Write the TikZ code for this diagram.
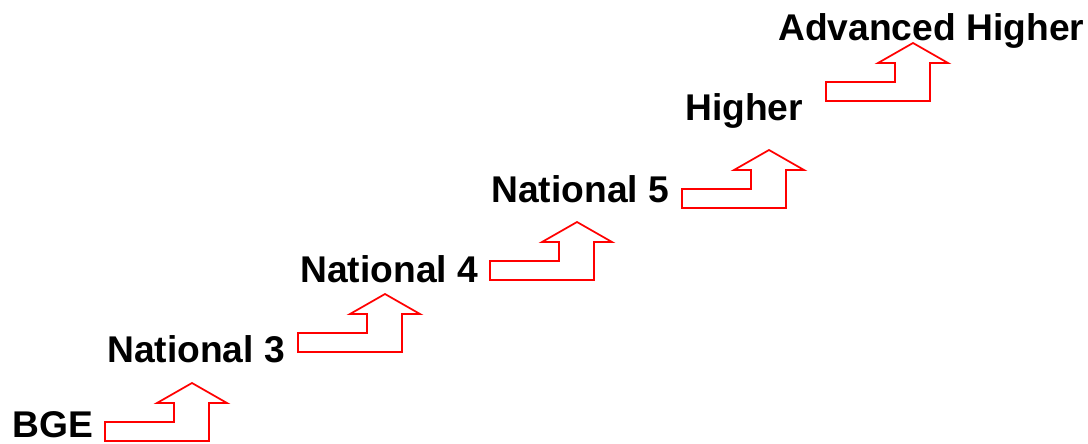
\documentclass[tikz,border=0pt]{standalone}
\usepackage{fontspec}
\setmainfont{Liberation Sans}
\begin{document}
\begin{tikzpicture}[x=0.75pt, y=-0.75pt,
  level/.style={anchor=base west, inner sep=0pt, font=\bfseries\fontsize{27.9}{30}\selectfont, text=black},
  steparrow/.pic={
    \draw[red, line width=1.3pt, line join=miter]
      (0,0) -- (0,-19) -- (69,-19) -- (69,-38) -- (52,-38) -- (87,-58)
      -- (122,-38) -- (104,-38) -- (104,0) -- cycle;
  }]
  \useasboundingbox (0,0) rectangle (1088,443);

  % level labels
  \node[level] (bge)  at (12,437)  {BGE};
  \node[level] (n3)   at (107,362) {National 3};
  \node[level] (n4)   at (300,282) {National 4};
  \node[level] (n5)   at (491,202) {National 5};
  \node[level] (hi)   at (685,120) {Higher};
  \node[level] (ahi)  at (778,40)  {Advanced Higher};

  % stepped arrows leading up to each next level
  \pic (a1) at (105,441) {steparrow};
  \pic (a2) at (298,352) {steparrow};
  \pic (a3) at (490,280) {steparrow};
  \pic (a4) at (682,208) {steparrow};
  \pic (a5) at (826,101) {steparrow};
\end{tikzpicture}
\end{document}
